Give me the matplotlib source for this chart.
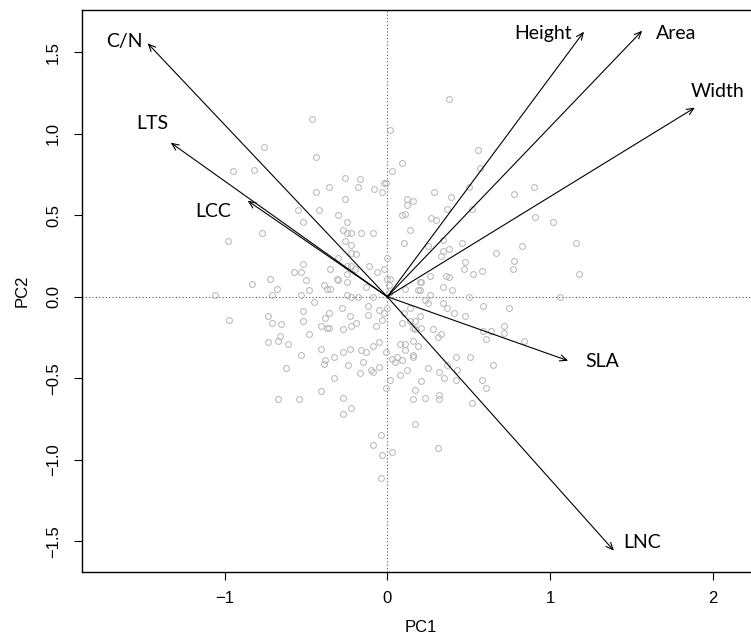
import matplotlib.pyplot as plt

# PCA scores (PC1, PC2)
pc1 = [0.38, -0.46, 0.02, -0.76, 0.56, -0.44, -0.82, 0.57, 0.03, 0.09,
       -0.26, -0.17, -0.02, -0.01, -0.36, -0.18, -0.08, -0.03, -0.44, 0.29,
       0.50, 0.39, -0.26, 0.12, 0.16, 0.12, 0.37, 0.52, -0.55, -0.42,
       0.11, 0.09, -0.30, 0.27, 0.30, -0.52, -0.25, 0.14, -0.27, -0.25,
       -0.22, -0.16, -0.09, -0.77, 0.34, -0.26, -0.22, 0.10, 0.25, 0.46,
       0.34, 0.33, 0.38, 0.67, -0.22, -0.19, -0.30, 0.00, 0.48, -0.52,
       -0.25, -0.22, -0.11, -0.35, -0.20, -0.02, -0.57, -0.53, -0.06, 0.47,
       0.58, 0.53, -0.25, 0.36, 0.26, 0.38, -0.72, -0.50, -0.30, -0.31,
       0.00, 0.02, 0.21, 0.20, -0.83, -0.25, -0.39, -0.37, -0.35, 0.01,
       -0.68, -0.48, -0.13, 0.11, 0.19, 0.20, 0.34, 0.40, 0.50, -0.71,
       -0.53, -0.25, -0.22, -0.18, -0.09, 0.26, 0.01,
       0.59, -0.45, -0.28, -0.12, -0.05, 0.00, -0.02, 0.10, 0.14, 0.23,
       0.25, 0.34, 0.37, 0.41, 0.48, -0.73, -0.71, -0.65, -0.52, -0.52,
       -0.38, -0.36, -0.23, -0.12, -0.03, 0.09, 0.14, 0.17, 0.20, 0.16,
       0.17, 0.21, 0.28, -0.41, -0.37, -0.36, -0.27, -0.22, -0.19, -0.07,
       0.64, 0.59, 0.61, -0.73, -0.67, -0.66, -0.61, -0.48, 0.31, 0.33,
       0.16, 0.08, 0.11, 0.11, 0.19, -0.09, -0.05, -0.41, -0.27, -0.23,
       -0.16, -0.13, -0.01, -0.53, -0.33, -0.39, -0.38, -0.24, -0.15, 0.03,
       0.06, 0.05, 0.09, 0.16, 0.16, 0.42, 0.51, 0.65, 0.37, 0.25,
       -0.62, -0.10, -0.09, -0.05, -0.17, 0.08, 0.12, 0.32, 0.43, -0.33,
       0.02, 0.35, 0.42, 0.21, 0.58, -0.01, -0.41, 0.17, 0.61, 0.32,
       0.32, -0.67, -0.54, -0.27, 0.16, 0.23, 0.52, -0.22, -0.27, 0.17,
       -0.04, -0.09, -0.03, 0.03, 0.31, -0.04,
       0.78, 0.90, 0.91, 1.02, 1.16, 0.83, 0.78, 0.77, 1.18, 1.06,
       0.75, 0.72, 0.72, 0.84,
       -0.95, -0.98, -1.06, -0.97]
pc2 = [1.21, 1.09, 1.02, 0.92, 0.90, 0.86, 0.78, 0.79, 0.77, 0.82,
       0.73, 0.72, 0.70, 0.70, 0.67, 0.67, 0.66, 0.64, 0.64, 0.64,
       0.67, 0.61, 0.60, 0.60, 0.59, 0.56, 0.54, 0.54, 0.53, 0.53,
       0.51, 0.50, 0.50, 0.48, 0.47, 0.46, 0.46, 0.41, 0.41, 0.39,
       0.39, 0.39, 0.39, 0.39, 0.35, 0.34, 0.32, 0.33, 0.31, 0.33,
       0.28, 0.25, 0.29, 0.27, 0.27, 0.26, 0.24, 0.24, 0.21, 0.20,
       0.19, 0.19, 0.19, 0.17, 0.17, 0.17, 0.15, 0.15, 0.15, 0.17,
       0.16, 0.14, 0.14, 0.13, 0.13, 0.12, 0.11, 0.10, 0.10, 0.11,
       0.11, 0.11, 0.09, 0.09, 0.08, 0.09, 0.07, 0.05, 0.05, 0.07,
       0.05, 0.04, 0.06, 0.05, 0.04, 0.04, 0.06, 0.04, 0.00, 0.01,
       0.01, 0.01, 0.00, 0.00, 0.00, 0.01, 0.02,
       -0.06, -0.03, -0.07, -0.06, -0.08, -0.07, -0.10, -0.10, -0.07, -0.02,
       -0.04, -0.04, -0.07, -0.10, -0.12, -0.12, -0.16, -0.17, -0.09, -0.15,
       -0.13, -0.10, -0.12, -0.11, -0.14, -0.16, -0.15, -0.15, -0.12, -0.19,
       -0.20, -0.19, -0.20, -0.18, -0.19, -0.19, -0.20, -0.18, -0.16, -0.18,
       -0.21, -0.21, -0.26, -0.28, -0.27, -0.24, -0.29, -0.23, -0.25, -0.23,
       -0.27, -0.29, -0.29, -0.33, -0.30, -0.30, -0.28, -0.32, -0.34, -0.32,
       -0.33, -0.34, -0.34, -0.36, -0.37, -0.41, -0.39, -0.42, -0.40, -0.38,
       -0.37, -0.40, -0.39, -0.36, -0.37, -0.37, -0.37, -0.42, -0.42, -0.44,
       -0.44, -0.45, -0.46, -0.43, -0.47, -0.48, -0.45, -0.46, -0.45, -0.50,
       -0.51, -0.50, -0.51, -0.52, -0.51, -0.56, -0.58, -0.57, -0.56, -0.60,
       -0.63, -0.63, -0.63, -0.62, -0.63, -0.62, -0.65, -0.68, -0.72, -0.78,
       -0.85, -0.91, -0.97, -0.95, -0.93, -1.11,
       0.63, 0.67, 0.49, 0.46, 0.33, 0.31, 0.22, 0.17, 0.14, 0.00,
       -0.07, -0.18, -0.22, -0.27,
       0.77, 0.34, 0.01, -0.14]

# trait loadings (arrow tips)
traits = ['C/N', 'LTS', 'LCC', 'Height', 'Area', 'Width', 'SLA', 'LNC']
load_pc1 = [-1.473, -1.331, -0.858, 1.209, 1.567, 1.891, 1.112, 1.393]
load_pc2 = [1.555, 0.945, 0.589, 1.626, 1.632, 1.160, -0.393, -1.558]

# where each trait name sits relative to its arrow tip
label_dx = [-0.145, -0.113, -0.215, -0.25, 0.207, 0.137, 0.212, 0.171]
label_dy = [0.009, 0.119, -0.068, -0.01, -0.016, 0.098, -0.006, 0.049]

fig = plt.figure(figsize=(7.51, 6.42), dpi=100)
# plot region runs a little past the right edge, as in the cropped original
ax = fig.add_axes([82 / 751, 70 / 642, 678 / 751, 562 / 642])
ax.set_xlim(-1.876, 2.291)
ax.set_ylim(-1.689, 1.759)

ax.axhline(0, color='#555555', lw=0.8, ls=(0, (1, 2)), zorder=1)
ax.axvline(0, color='#555555', lw=0.8, ls=(0, (1, 2)), zorder=1)

ax.plot(pc1, pc2, 'o', ms=4.2, mfc='none', mec='#b5b5b5', mew=0.7, zorder=2)

for name, lx, ly, dx, dy in zip(traits, load_pc1, load_pc2, label_dx, label_dy):
    ax.annotate('', xy=(lx, ly), xytext=(0, 0),
                arrowprops=dict(arrowstyle='->, head_length=0.5, head_width=0.22',
                                color='black', lw=0.8, shrinkA=0, shrinkB=0),
                zorder=3)
    ax.text(lx + dx, ly + dy, name, fontsize=14, family='Lato',
            ha='center', va='center', zorder=4)

for side in ['top', 'left', 'bottom', 'right']:
    ax.spines[side].set_linewidth(1.0)

ax.set_xticks([-1, 0, 1, 2])
ax.set_xticklabels(['\u22121', '0', '1', '2'])
ax.set_yticks([-1.5, -1.0, -0.5, 0.0, 0.5, 1.0, 1.5])
ax.set_yticklabels(['\u22121.5', '\u22121.0', '\u22120.5', '0.0', '0.5', '1.0', '1.5'])
ax.tick_params(direction='out', length=6, width=0.8, labelsize=12, pad=8)
ax.tick_params(axis='y', pad=9)
for lab in ax.get_yticklabels():
    lab.set_rotation(90)
    lab.set_va('center')
for lab in ax.get_xticklabels() + ax.get_yticklabels():
    lab.set_family('Liberation Sans')

ax.set_xlabel('PC1', fontsize=12, family='Liberation Sans')
ax.set_ylabel('PC2', fontsize=12, family='Liberation Sans')
ax.xaxis.set_label_coords(0.5, -0.0996)
ax.yaxis.set_label_coords(-0.0878, 0.5)
ax.xaxis.label.set_va('center')
ax.yaxis.label.set_va('center')

fig.savefig('out.png', dpi=100)
